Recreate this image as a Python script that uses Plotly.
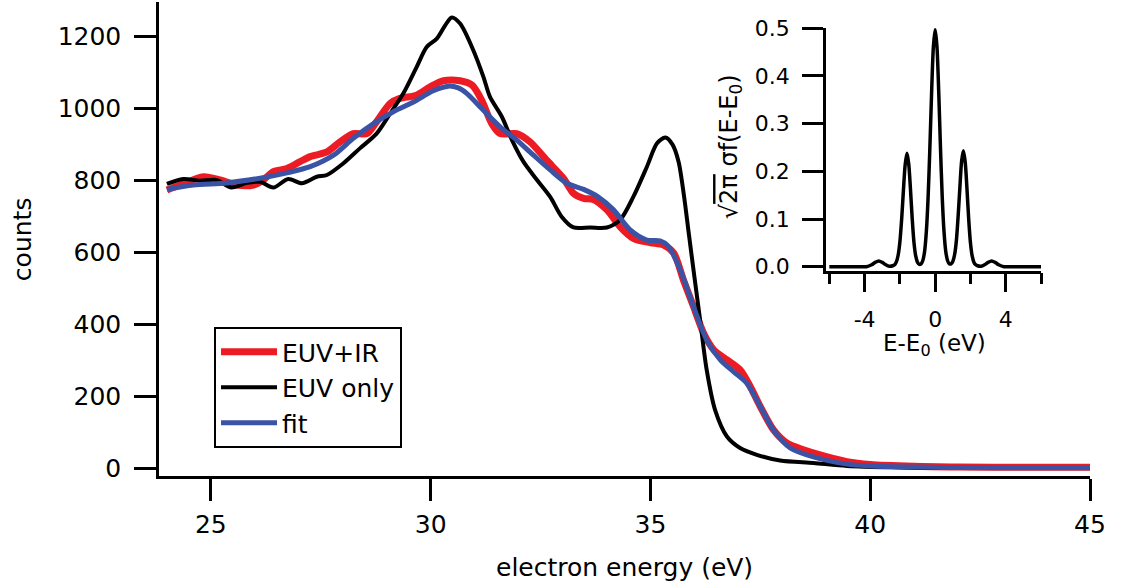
import plotly.graph_objects as go

# ---------------- data ----------------
euv_ir_x = [24.0, 24.3, 24.83, 25.21, 25.59, 25.97, 26.19, 26.42, 26.73, 27.03, 27.26, 27.64,
            27.94, 28.24, 28.55, 28.77, 29.08, 29.3, 29.68, 29.99, 30.29, 30.67, 30.94, 31.16,
            31.39, 31.58, 31.96, 32.26, 32.64, 33.02, 33.25, 33.48, 33.7, 34.01, 34.31, 34.61,
            34.99, 35.3, 35.53, 35.75, 35.98, 36.21, 36.44, 36.74, 37.04, 37.27, 37.5, 37.8,
            38.11, 38.48, 38.94, 39.47, 40.0, 41.0, 42.0, 43.5, 45.0]
euv_ir_y = [773, 787, 810, 801, 787, 787, 801, 824, 833, 852, 866, 879,
            907, 930, 930, 963, 1014, 1028, 1037, 1060, 1077, 1077, 1065, 1023,
            958, 930, 930, 907, 856, 806, 764, 750, 747, 718, 671, 639,
            627, 620, 598, 523, 449, 375, 329, 301, 273, 227, 171, 106,
            69, 51, 34, 18, 10, 5, 3, 2, 2]

euv_x = [24.0, 24.37, 24.75, 25.13, 25.47, 25.82, 26.12, 26.42, 26.76, 27.07, 27.41, 27.64,
         28.01, 28.39, 28.77, 29.08, 29.38, 29.68, 29.91, 30.14, 30.33, 30.48, 30.67, 30.97,
         31.2, 31.35, 31.62, 31.85, 32.11, 32.42, 32.72, 32.98, 33.25, 33.63, 34.01, 34.31,
         34.61, 34.92, 35.15, 35.34, 35.5, 35.64, 35.76, 35.88, 36.0, 36.13, 36.28, 36.47,
         36.74, 37.04, 37.42, 37.95, 38.71, 39.47, 40.5, 42.0, 45.0]
euv_y = [790, 804, 799, 801, 780, 793, 796, 780, 804, 792, 810, 815,
         847, 889, 930, 986, 1042, 1115, 1171, 1194, 1231, 1253, 1236, 1162,
         1088, 1032, 977, 912, 852, 801, 754, 699, 669, 669, 669, 690,
         754, 838, 903, 919, 900, 852, 760, 645, 532, 412, 273, 162,
         88, 56, 37, 21, 14, 6, 2, 0, 0]

fit_x = [24.0, 24.6, 25.36, 26.12, 26.73, 27.26, 27.79, 28.24, 28.7, 29.15, 29.61, 30.06,
         30.4, 30.63, 30.82, 31.2, 31.58, 31.96, 32.34, 32.72, 33.1, 33.48, 33.8, 34.16,
         34.54, 34.92, 35.22, 35.4, 35.68, 35.98, 36.28, 36.59, 36.89, 37.19, 37.5, 37.8,
         38.18, 38.71, 39.47, 40.0, 41.0, 42.0, 45.0]
fit_y = [775, 787, 793, 806, 821, 838, 870, 917, 958, 991, 1018, 1049,
         1062, 1057, 1042, 995, 949, 912, 870, 829, 792, 775, 755, 718,
         662, 634, 632, 618, 551, 449, 356, 301, 268, 236, 171, 106,
         56, 31, 11, 6, 3, 1.5, 1]

inset_x = [-6.0, -4.5, -3.9, -3.6, -3.4, -3.2, -3.0, -2.8, -2.6, -2.4, -2.3, -2.2, -2.1, -2.0,
           -1.9, -1.8, -1.7, -1.6, -1.5, -1.4, -1.3, -1.2, -1.1, -1.0, -0.9, -0.8, -0.7, -0.6,
           -0.5, -0.4, -0.3, -0.2, -0.1, 0.0, 0.1, 0.2, 0.3, 0.4, 0.5, 0.6, 0.7, 0.8, 0.9,
           1.0, 1.1, 1.2, 1.3, 1.4, 1.5, 1.6, 1.7, 1.8, 1.9, 2.0, 2.1, 2.2, 2.3, 2.4, 2.6,
           2.8, 3.0, 3.2, 3.4, 3.6, 3.9, 4.5, 6.0]
inset_y = [0.0, 0.0, 0.0, 0.004, 0.009, 0.012, 0.009, 0.004, 0.001, 0.002, 0.004, 0.010, 0.024, 0.052,
           0.100, 0.160, 0.214, 0.238, 0.216, 0.162, 0.100, 0.050, 0.022, 0.009, 0.005, 0.006, 0.013, 0.032,
           0.074, 0.146, 0.250, 0.368, 0.462, 0.498, 0.462, 0.368, 0.250, 0.146, 0.074, 0.032, 0.013, 0.006, 0.006,
           0.011, 0.025, 0.054, 0.105, 0.166, 0.222, 0.243, 0.220, 0.165, 0.100, 0.050, 0.022, 0.009, 0.004, 0.002, 0.001,
           0.004, 0.009, 0.012, 0.009, 0.004, 0.0, 0.0, 0.0]

main_xticks = [25, 30, 35, 40, 45]
main_yticks = [0, 200, 400, 600, 800, 1000, 1200]
inset_xticks = [-4, 0, 4]
inset_xticklabels = ["-4", "0", "4"]
inset_xminor = [-6, -2, 2, 6]
inset_yticks = [0.0, 0.1, 0.2, 0.3, 0.4, 0.5]

# ---------------- figure ----------------
FONT = "DejaVu Sans"
RED = "#ED1C24"
BLUE = "#3A53A4"

fig = go.Figure()
fig.add_trace(go.Scatter(x=euv_ir_x, y=euv_ir_y, mode="lines", name="EUV+IR",
                         line=dict(color=RED, width=7, shape="spline", smoothing=0.8)))
fig.add_trace(go.Scatter(x=euv_x, y=euv_y, mode="lines", name="EUV only",
                         line=dict(color="black", width=4, shape="spline", smoothing=0.8)))
fig.add_trace(go.Scatter(x=fit_x, y=fit_y, mode="lines", name="fit",
                         line=dict(color=BLUE, width=5, shape="spline", smoothing=0.8)))
fig.add_trace(go.Scatter(x=inset_x, y=inset_y, mode="lines", showlegend=False,
                         xaxis="x2", yaxis="y2",
                         line=dict(color="black", width=3.5, shape="spline", smoothing=0.8)))

axis_common = dict(showline=True, linecolor="black", linewidth=2.5, ticks="outside",
                   tickcolor="black", tickwidth=2.5, showgrid=False, zeroline=False,
                   mirror=False, automargin=False)

fig.update_layout(
    width=1124, height=587,
    margin=dict(l=159, r=34, t=2, b=111, pad=0, autoexpand=False),
    paper_bgcolor="white", plot_bgcolor="white",
    font=dict(family=FONT, size=25, color="black"),
    xaxis=dict(**axis_common, range=[23.82, 45], tickvals=main_xticks, ticklen=22,
               tickfont=dict(size=25), ticklabelstandoff=2, domain=[0, 1]),
    yaxis=dict(**axis_common, range=[-22, 1296], tickvals=main_yticks, ticklen=22,
               tickfont=dict(size=25), ticklabelstandoff=8, domain=[0, 1]),
    xaxis2=dict(**axis_common, range=[-6.19, 6.0], tickvals=inset_xticks,
                ticktext=inset_xticklabels, ticklen=19,
                tickfont=dict(size=22), ticklabelstandoff=8,
                minor=dict(tickvals=inset_xminor, ticklen=11, tickwidth=2.5,
                           tickcolor="black", ticks="outside"),
                domain=[0.7164, 0.9474], anchor="y2"),
    yaxis2=dict(**axis_common, range=[-0.0084, 0.5], tickvals=inset_yticks, ticklen=21,
                tickformat=".1f", tickfont=dict(size=22), ticklabelstandoff=8,
                domain=[0.4331, 0.9445], anchor="x2"),
    legend=dict(x=0.0591, y=0.3143, xanchor="left", yanchor="top",
                bordercolor="black", borderwidth=2, bgcolor="white",
                font=dict(family=FONT, size=25), itemwidth=56,
                entrywidth=195, entrywidthmode="pixels"),
    annotations=[
        dict(text="electron energy (eV)", xref="paper", yref="paper", x=0.5005, y=-0.192,
             xanchor="center", yanchor="middle", showarrow=False, font=dict(size=25)),
        dict(text="counts", xref="paper", yref="paper", x=-0.147, y=0.5,
             xanchor="center", yanchor="middle", textangle=-90, showarrow=False,
             font=dict(size=25)),
        dict(text="√<span style='text-decoration:overline'>2π</span> σf(E-E<sub>0</sub>)",
             xref="paper", yref="paper", x=0.614, y=0.695, xanchor="center", yanchor="middle",
             textangle=-90, showarrow=False, font=dict(size=24)),
        dict(text="E-E<sub>0</sub> (eV)", xref="paper", yref="paper", x=0.8335, y=0.276,
             xanchor="center", yanchor="middle", showarrow=False, font=dict(size=23)),
    ],
)

fig.write_html("out.html")
